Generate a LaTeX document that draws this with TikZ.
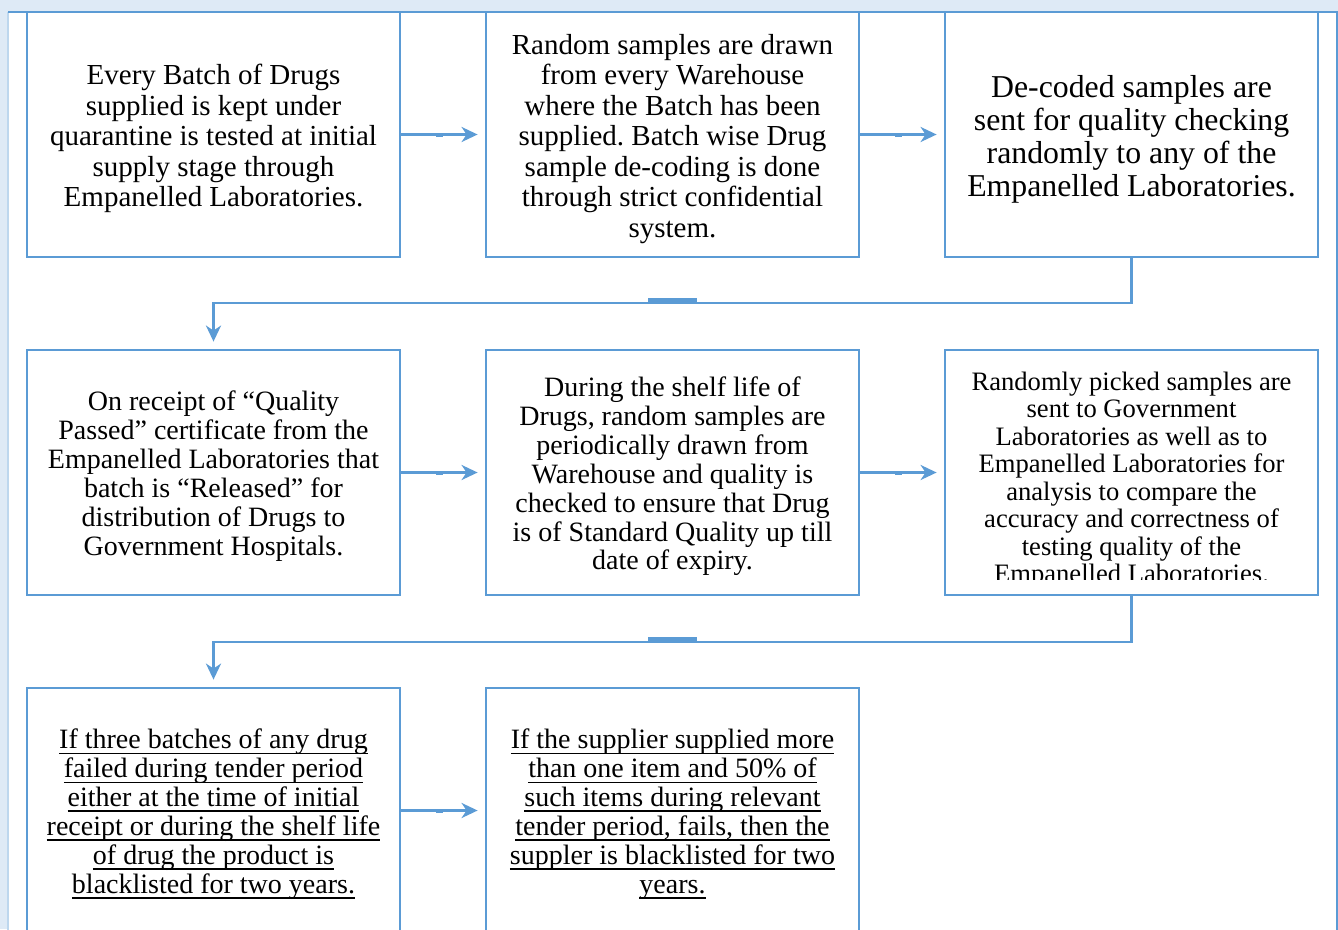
\documentclass[tikz,border=0pt]{standalone}
\usepackage{fontspec}
\setmainfont{Liberation Serif}
\usetikzlibrary{arrows.meta,calc}
\frenchspacing

\definecolor{lineblue}{HTML}{5B9BD5}
\definecolor{bandblue}{HTML}{DEEAF6}
\definecolor{frameleft}{HTML}{BDD7EE}

% underline one line of text, rule sitting just under the baseline
\newsavebox\ulbox
\newcommand\undl[1]{\sbox\ulbox{#1}\rlap{\rule[-5.5pt]{\wd\ulbox}{1.8pt}}\usebox\ulbox}
% extra headroom on a first line, so the block sits a little lower in its box
\newcommand\topgap{\rule{0pt}{0.98em}}

\tikzset{
  stepbox/.style={draw=lineblue, line width=2.8pt, fill=white,
    minimum width=373pt, minimum height=245pt, inner sep=0pt, align=center},
  txtbig/.style={font=\fontsize{29}{30.5}\selectfont},
  txthuge/.style={font=\fontsize{31.8}{33}\selectfont},
  txtmid/.style={font=\fontsize{28}{28.9}\selectfont},
  txtsmall/.style={font=\fontsize{26.6}{27.5}\selectfont},
  conn/.style={draw=lineblue, line width=2.8pt,
    -{Stealth[length=16pt,width=15pt,inset=5pt]}, shorten >=7pt},
}

\begin{document}
\begin{tikzpicture}[x=1pt,y=-1pt]
\useasboundingbox (0,0) rectangle (1338,929);
\clip (0,0) rectangle (1338,929);

% page band and frame
\fill[bandblue] (0,0) rectangle (1338,929);
\fill[white] (8,12) rectangle (1338,940);
\draw[frameleft, line width=1.5pt] (8,12) -- (8,940);
\draw[lineblue, line width=2.5pt] (8,12) -- (1337,12) -- (1337,940);

% row 1
\node[stepbox, txtbig] (r1c1) at (213.5,134.5)
  {\topgap Every Batch of Drugs\\ supplied is kept under\\ quarantine is tested at initial\\
   supply stage through\\ Empanelled Laboratories.};
\node[stepbox, txtbig] (r1c2) at (672.5,134.5)
  {\topgap Random samples are drawn\\ from every Warehouse\\ where the Batch has been\\
   supplied. Batch wise Drug\\ sample de-coding is done\\ through strict confidential\\ system.};
\node[stepbox, txthuge] (r1c3) at (1131.5,134.5)
  {\topgap De-coded samples are\\ sent for quality checking\\ randomly to any of the\\
   Empanelled Laboratories.};

% row 2
\node[stepbox, txtmid] (r2c1) at (213.5,472.5)
  {\topgap On receipt of “Quality\\ Passed” certificate from the\\ Empanelled Laboratories that\\
   batch is “Released” for\\ distribution of Drugs to\\ Government Hospitals.};
\node[stepbox, txtmid] (r2c2) at (672.5,472.5)
  {\topgap During the shelf life of\\ Drugs, random samples are\\ periodically drawn from\\
   Warehouse and quality is\\ checked to ensure that Drug\\ is of Standard Quality up till\\
   date of expiry.};
\node[stepbox] (r2c3) at (1131.5,472.5) {};
\begin{scope}
  \clip (r2c3.north west) rectangle ($(r2c3.south east)+(0,-17)$);
  \node[txtsmall, align=center, inner sep=0pt, anchor=north] (r2c3text)
    at ($(r2c3.north)+(0,23)$)
    {Randomly picked samples are\\ sent to Government\\ Laboratories as well as to\\
     Empanelled Laboratories for\\ analysis to compare the\\ accuracy and correctness of\\
     testing quality of the\\ Empanelled Laboratories.};
\end{scope}

% row 3
\node[stepbox, txtmid] (r3c1) at (213.5,810.5)
  {\topgap\undl{If three batches of any drug}\\ \undl{failed during tender period}\\
   \undl{either at the time of initial}\\ \undl{receipt or during the shelf life}\\
   \undl{of drug the product is}\\ \undl{blacklisted for two years.}};
\node[stepbox, txtmid] (r3c2) at (672.5,810.5)
  {\topgap\undl{If the supplier supplied more}\\ \undl{than one item and 50\% of}\\
   \undl{such items during relevant}\\ \undl{tender period, fails, then the}\\
   \undl{suppler is blacklisted for two}\\ \undl{years.}};

% straight connectors with their small middle marks
\foreach \a/\b in {r1c1/r1c2, r1c2/r1c3, r2c1/r2c2, r2c2/r2c3, r3c1/r3c2}{
  \draw[conn] (\a.east) -- (\b.west);
  \fill[lineblue] ($(\a.east)!0.5!(\b.west)+(-7.5,-2)$) rectangle ++(7,4);
}

% elbow connectors between rows
\coordinate (k1) at (1131.5,303);
\draw[conn] (r1c3.south) -- (k1) -| (r2c1.north);
\fill[lineblue] ($(k1)!0.5!(k1 -| r2c1.north)+(-24.5,-5)$) rectangle ++(49,3.5);

\coordinate (k2) at (1131.5,642);
\draw[conn] (r2c3.south) -- (k2) -| (r3c1.north);
\fill[lineblue] ($(k2)!0.5!(k2 -| r3c1.north)+(-24.5,-5)$) rectangle ++(49,3.5);
\end{tikzpicture}
\end{document}
